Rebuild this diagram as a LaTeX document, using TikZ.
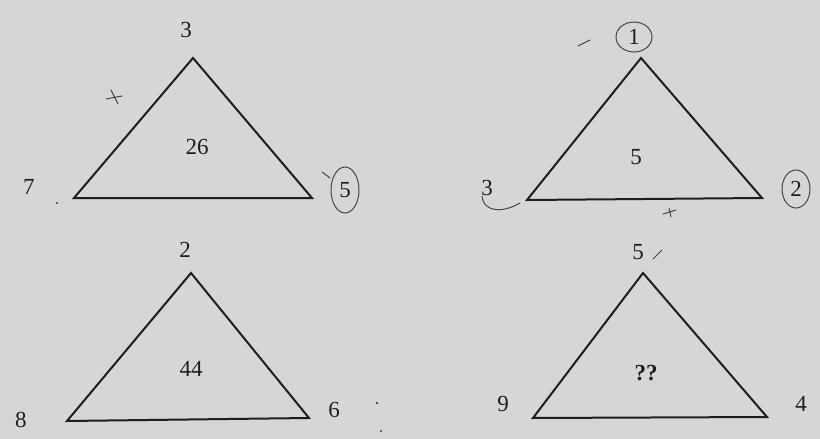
\documentclass[tikz,border=0pt]{standalone}
\usepackage{fontspec}
\setmainfont{Liberation Serif}
\definecolor{paper}{RGB}{214,214,212}
\definecolor{ink}{RGB}{30,30,30}
\definecolor{pencil}{RGB}{70,70,72}
\begin{document}
\begin{tikzpicture}[x=1pt,y=-1pt,
  tri/.style={draw=ink,line width=2pt,line join=miter},
  num/.style={text=ink,font=\fontsize{23}{25}\selectfont,inner sep=0pt},
  pmark/.style={draw=pencil,line width=1pt,line cap=round}]
\useasboundingbox (0,0) rectangle (820,439);
\fill[paper] (0,0) rectangle (820,439);
% triangle 1
\coordinate (a1) at (193,58); \coordinate (b1) at (74,198); \coordinate (c1) at (312,198);
\draw[tri] (a1) -- (b1) -- (c1) -- cycle;
\node[num] (t1) at (186,30) {3};
\node[num] (m1) at (197,147) {26};
\node[num] (l1) at (29,187) {7};
\node[num] (r1) at (345,190) {5};
% triangle 2
\coordinate (a2) at (641,58); \coordinate (b2) at (527,200); \coordinate (c2) at (762,198);
\draw[tri] (a2) -- (b2) -- (c2) -- cycle;
\node[num] (t2) at (634,37) {1};
\node[num] (m2) at (636,157) {5};
\node[num] (l2) at (487,188) {3};
\node[num] (r2) at (796,189) {2};
% triangle 3
\coordinate (a3) at (191,273); \coordinate (b3) at (67,421); \coordinate (c3) at (309,418);
\draw[tri] (a3) -- (b3) -- (c3) -- cycle;
\node[num] (t3) at (185,250) {2};
\node[num] (m3) at (191,369) {44};
\node[num] (l3) at (21,420) {8};
\node[num] (r3) at (334,410) {6};
% triangle 4
\coordinate (a4) at (643,273); \coordinate (b4) at (533,418); \coordinate (c4) at (767,417);
\draw[tri] (a4) -- (b4) -- (c4) -- cycle;
\node[num] (t4) at (638,252) {5};
\node[num,font=\bfseries\fontsize{23}{25}\selectfont] (m4) at (646,373) {??};
\node[num] (l4) at (503,404) {9};
\node[num] (r4) at (801,404) {4};
% pencil annotations
\draw[pmark] (r1) ellipse [x radius=14, y radius=23];
\draw[pmark] (t2) ellipse [x radius=18, y radius=15];
\draw[pmark] (r2) ellipse [x radius=14, y radius=19];
\draw[pmark] (482,196) .. controls (484,214) and (505,212) .. (520,203);
\draw[pmark] (111,90) -- (118,104);
\draw[pmark] (106,99) -- (122,96);
\draw[pmark] (322,172) -- (330,178);
\draw[pmark] (578,46) -- (590,40);
\draw[pmark] (663,214) -- (676,210);
\draw[pmark] (669,208) -- (671,217);
\draw[pmark] (653,259) -- (662,250);
\fill[pencil] (57,203) circle (1.2);
\fill[pencil] (377,403) circle (1.3);
\fill[pencil] (381,431) circle (1.1);
\end{tikzpicture}
\end{document}
